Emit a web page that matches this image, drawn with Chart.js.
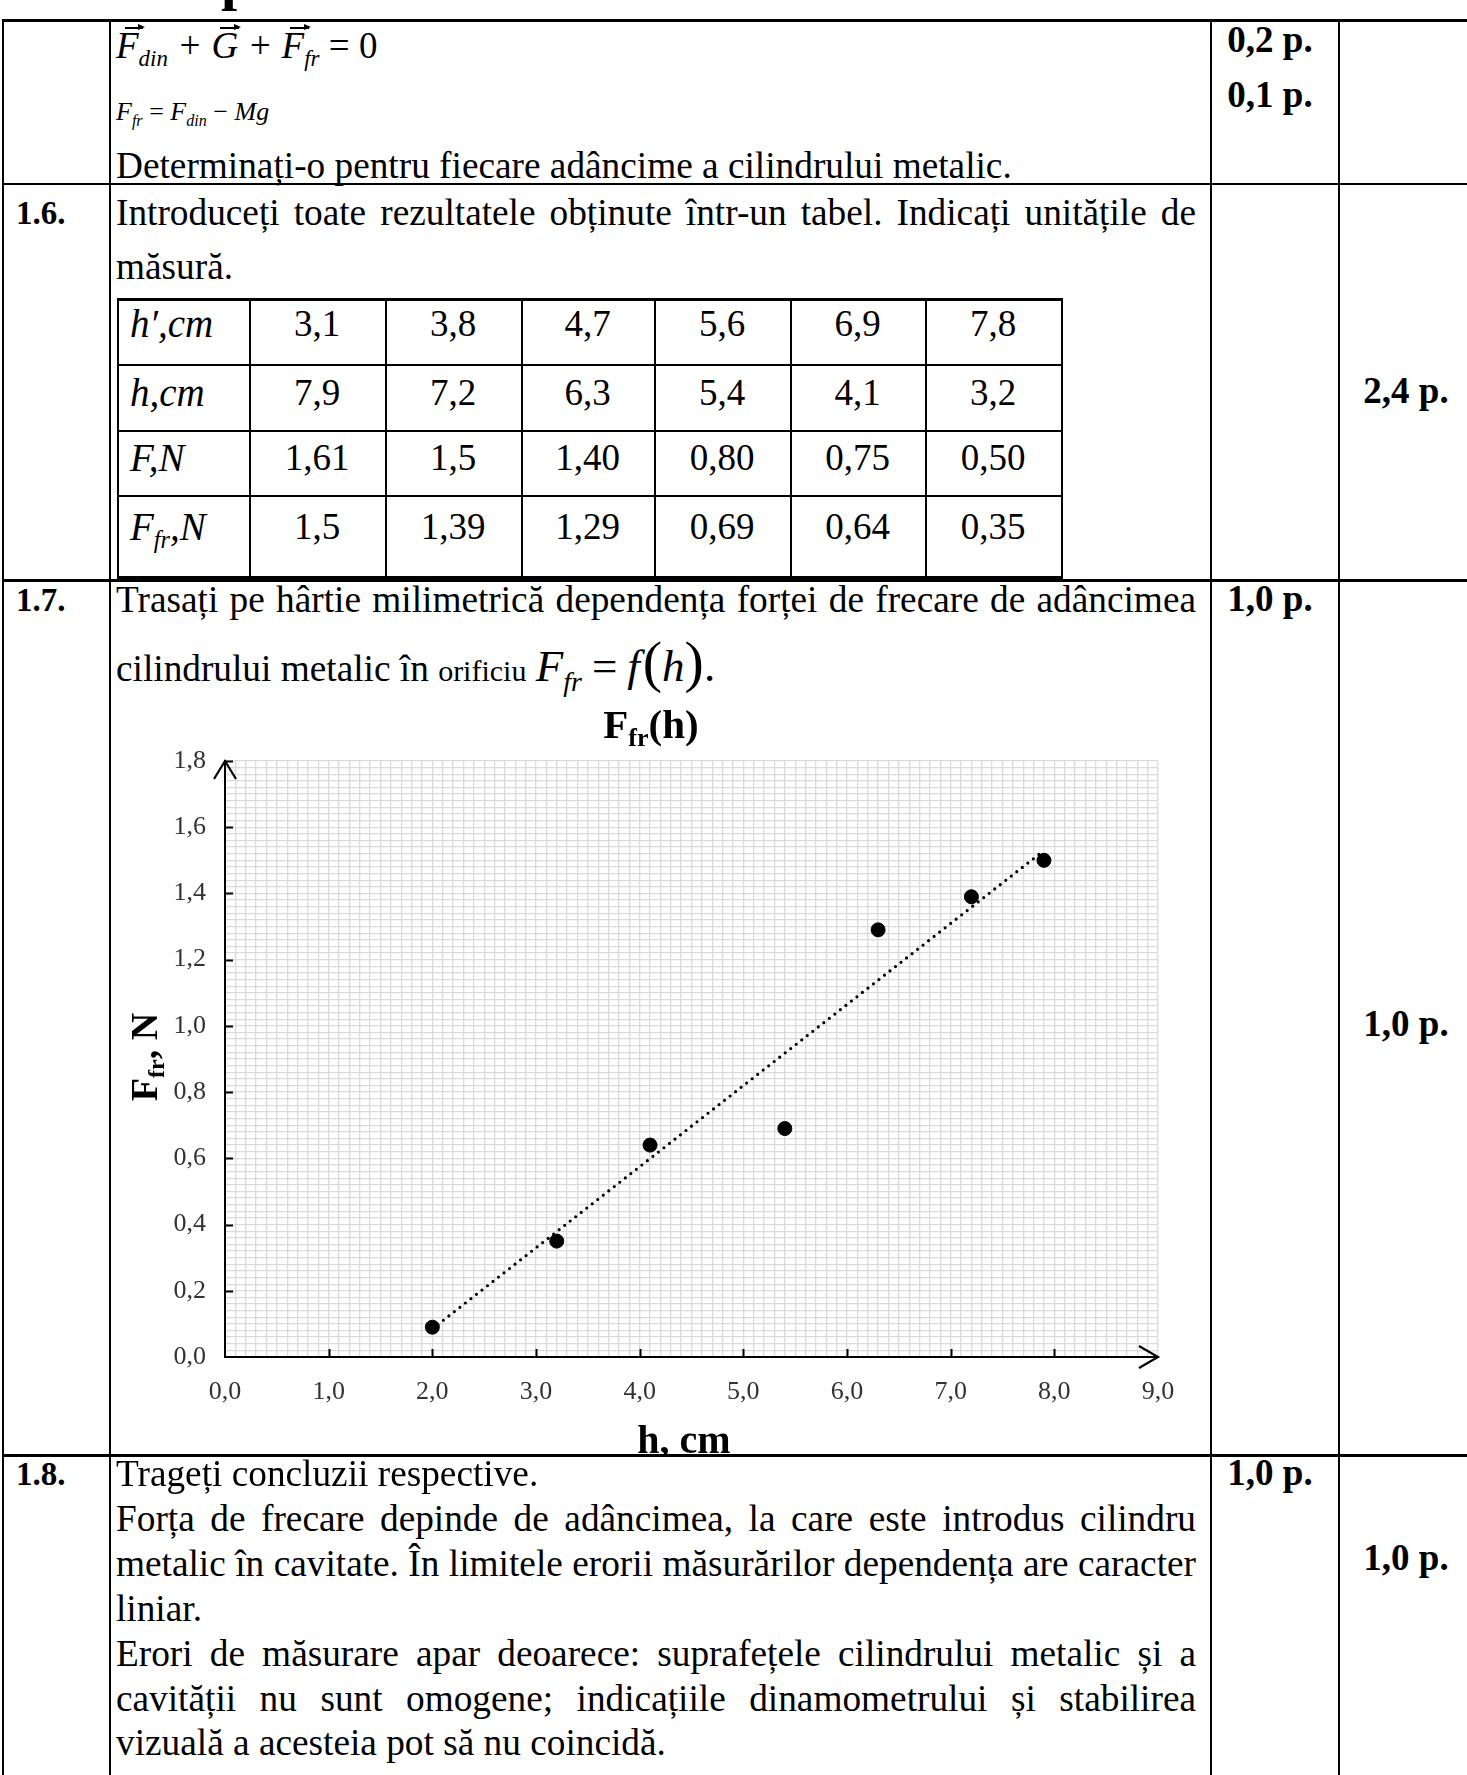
<!DOCTYPE html>
<html>
<head>
<meta charset="utf-8">
<script src="https://cdn.jsdelivr.net/npm/chart.js@4.4.1/dist/chart.umd.min.js"></script>
<style>
body { margin: 0; background: #fff; }
#page { position: relative; width: 1467px; height: 1775px; overflow: hidden; font-family: "Liberation Serif", "Times New Roman", serif; color: #000; }
.ln { position: absolute; background: #000; }
.t { position: absolute; white-space: nowrap; font-size: 37.3px; line-height: 44px; }
.j { text-align: justify; text-align-last: justify; width: 1080px; }
.b { font-weight: bold; }
.c { text-align: center; }
.m { font-style: italic; }
.n { font-style: normal; }
sub { font-size: 0.62em; vertical-align: -0.35em; line-height: 0; }
.vec { position: relative; display: inline-block; }
.ar { position: absolute; left: 0.24em; top: 3px; width: 0.5em; height: 1.6px; background: #000; }
.ar::after { content: ""; position: absolute; right: -2px; top: -3px; border-left: 7px solid #000; border-top: 3.8px solid transparent; border-bottom: 3.8px solid transparent; }
.cell { position: absolute; white-space: nowrap; font-size: 37px; line-height: 44px; text-align: center; }
.cell.hd { text-align: left; font-style: italic; font-size: 39px; padding-left: 13px; box-sizing: border-box; }
#wrap { position: absolute; left: 102px; top: 690px; width: 1105px; height: 765px; }
</style>
</head>
<body>
<div id="page">
  <!-- fragment de titlu de deasupra tabelului -->
  <div class="t b" style="left:221px;top:-49px;font-size:58px;line-height:58px">p</div>

  <!-- grila documentului -->
  <div class="ln" style="left:3px;top:19px;width:1464px;height:3px"></div>
  <div class="ln" style="left:2px;top:19px;width:2px;height:1756px"></div>
  <div class="ln" style="left:109px;top:19px;width:2px;height:1756px"></div>
  <div class="ln" style="left:1210px;top:19px;width:2px;height:1756px"></div>
  <div class="ln" style="left:1338px;top:19px;width:2px;height:1756px"></div>
  <div class="ln" style="left:3px;top:183px;width:1464px;height:2px"></div>
  <div class="ln" style="left:3px;top:579px;width:1464px;height:3px"></div>
  <div class="ln" style="left:3px;top:1454px;width:1464px;height:3px"></div>

  <!-- rand 1 -->
  <div class="t m" style="left:116px;top:24px;font-size:37px"><span class="vec">F<span class="ar"></span></span><sub>din</sub> + <span class="vec">G<span class="ar"></span></span> + <span class="vec">F<span class="ar"></span></span><sub>fr</sub> <span class="n">= 0</span></div>
  <div class="t m" style="left:116px;top:90px;font-size:26px">F<sub>fr</sub> <span class="n">=</span> F<sub>din</sub> <span class="n">&minus;</span> Mg</div>
  <div class="t" style="left:116px;top:144px">Determinați-o pentru fiecare adâncime a cilindrului metalic.</div>
  <div class="t b c" style="left:1212px;top:18px;width:116px;font-size:37px">0,2 p.</div>
  <div class="t b c" style="left:1212px;top:73px;width:116px;font-size:37px">0,1 p.</div>

  <!-- 1.6 -->
  <div class="t b" style="left:16px;top:191px;font-size:33px">1.6.</div>
  <div class="t j" style="left:116px;top:191px">Introduceți toate rezultatele obținute într-un tabel. Indicați unitățile de</div>
  <div class="t" style="left:116px;top:245px">măsură.</div>
  <div class="t b c" style="left:1340px;top:369px;width:132px;font-size:37px">2,4 p.</div>

  <!-- 1.7 -->
  <div class="t b" style="left:16px;top:578px;font-size:33px">1.7.</div>
  <div class="t j" style="left:116px;top:578px">Trasați pe hârtie milimetrică dependența forței de frecare de adâncimea</div>
  <div class="t" style="left:116px;top:640px">cilindrului metalic în <span style="font-size:30px">orificiu</span> <span style="font-size:45px"><span class="m">F<sub>fr</sub></span><span style="margin:0 10px">=</span><span class="m">f</span><span style="font-size:58px;margin-left:3px">(</span><span class="m">h</span><span style="font-size:58px">)</span>.</span></div>
  <div class="t b c" style="left:1212px;top:577px;width:116px;font-size:37px">1,0 p.</div>
  <div class="t b c" style="left:1340px;top:1002px;width:132px;font-size:37px">1,0 p.</div>
  <div id="wrap"><canvas id="chart"></canvas></div>

  <!-- 1.8 -->
  <div class="t b" style="left:16px;top:1452px;font-size:33px">1.8.</div>
  <div class="t" style="left:116px;top:1452px">Trageți concluzii respective.</div>
  <div class="t j" style="left:116px;top:1497px">Forța de frecare depinde de adâncimea, la care este introdus cilindru</div>
  <div class="t j" style="left:116px;top:1542px">metalic în cavitate. În limitele erorii măsurărilor dependența are caracter</div>
  <div class="t" style="left:116px;top:1587px">liniar.</div>
  <div class="t j" style="left:116px;top:1632px">Erori de măsurare apar deoarece: suprafețele cilindrului metalic și a</div>
  <div class="t j" style="left:116px;top:1677px">cavității nu sunt omogene; indicațiile dinamometrului și stabilirea</div>
  <div class="t" style="left:116px;top:1721px">vizuală a acesteia pot să nu coincidă.</div>
  <div class="t b c" style="left:1212px;top:1451px;width:116px;font-size:37px">1,0 p.</div>
  <div class="t b c" style="left:1340px;top:1536px;width:132px;font-size:37px">1,0 p.</div>
</div>

<script>
// tabelul 1.6
const hPrimeRow = ["3,1", "3,8", "4,7", "5,6", "6,9", "7,8"];
const hRow = ["7,9", "7,2", "6,3", "5,4", "4,1", "3,2"];
const fRow = ["1,61", "1,5", "1,40", "0,80", "0,75", "0,50"];
const ffrRow = ["1,5", "1,39", "1,29", "0,69", "0,64", "0,35"];
const rowHeads = ["h′,cm", "h,cm", "F,N", "F<sub>fr</sub>,N"];

// graficul Ffr(h)
const hCm = [2.0, 3.2, 4.1, 5.4, 6.3, 7.2, 7.9];
const fFr = [0.09, 0.35, 0.64, 0.69, 1.29, 1.39, 1.50];
const trendH = [2.0, 7.86];
const trendF = [0.085, 1.52];

// geometria tabelului (px)
const colEdges = [117, 249, 385, 521, 654, 790, 925, 1061];
const rowEdges = [298, 364, 430, 495, 579];
const rowText = [302, 371, 436, 505];

const page = document.getElementById("page");
function addDiv(cls, style, html) {
    const d = document.createElement("div");
    d.className = cls;
    d.style.cssText = style;
    if (html) d.innerHTML = html;
    page.appendChild(d);
}
rowEdges.forEach((y, i) => {
    const last = i === rowEdges.length - 1;
    const h = i === 0 ? 3 : (last ? 4 : 2);
    addDiv("ln", `left:${colEdges[0]}px;top:${y - (last ? 3 : 0)}px;width:${colEdges[colEdges.length - 1] - colEdges[0] + 1}px;height:${h}px`);
});
colEdges.forEach(x => {
    addDiv("ln", `left:${x}px;top:${rowEdges[0]}px;width:1.5px;height:${rowEdges[rowEdges.length - 1] - rowEdges[0]}px`);
});
[hPrimeRow, hRow, fRow, ffrRow].forEach((vals, r) => {
    addDiv("cell hd", `left:${colEdges[0]}px;top:${rowText[r]}px;width:${colEdges[1] - colEdges[0]}px`, rowHeads[r]);
    vals.forEach((v, k) => {
        addDiv("cell", `left:${colEdges[k + 1]}px;top:${rowText[r]}px;width:${colEdges[k + 2] - colEdges[k + 1]}px`, v);
    });
});

function virgula(v) {
    return v.toFixed(1).replace(".", ",");
}
function eMultiplu(v, pas) {
    const r = v / pas;
    return Math.abs(r - Math.round(r)) < 1e-6;
}

// text cu indice pe canvas
function scrie(ctx, parts, cx, cy) {
    let w = 0;
    parts.forEach(p => { ctx.font = p.font; w += ctx.measureText(p.text).width; });
    let x = cx - w / 2;
    parts.forEach(p => {
        ctx.font = p.font;
        ctx.fillText(p.text, x, cy + (p.dy || 0));
        x += ctx.measureText(p.text).width;
    });
}

const serif = '"Liberation Serif", "Times New Roman", serif';

const extras = {
    id: "extras",
    afterDraw(chart) {
        const { ctx, chartArea: a, scales: { x, y } } = chart;
        ctx.save();
        ctx.strokeStyle = "#000";
        ctx.fillStyle = "#000";
        ctx.lineWidth = 2;
        ctx.beginPath();
        x.ticks.forEach(t => {
            if (t.value > 0 && t.value < 9 && eMultiplu(t.value, 1)) {
                const px = Math.round(x.getPixelForValue(t.value)) + 0.5;
                ctx.moveTo(px, a.bottom);
                ctx.lineTo(px, a.bottom - 8);
            }
        });
        y.ticks.forEach(t => {
            if (t.value > 0 && eMultiplu(t.value, 0.2)) {
                const py = Math.round(y.getPixelForValue(t.value)) + 0.5;
                ctx.moveTo(a.left, py);
                ctx.lineTo(a.left + 8, py);
            }
        });
        ctx.stroke();

        // sageti
        ctx.lineWidth = 2.2;
        ctx.beginPath();
        ctx.moveTo(a.left - 11, a.top + 18);
        ctx.lineTo(a.left, a.top);
        ctx.lineTo(a.left + 11, a.top + 18);
        ctx.moveTo(a.right - 19, a.bottom - 11);
        ctx.lineTo(a.right, a.bottom);
        ctx.lineTo(a.right - 19, a.bottom + 11);
        ctx.stroke();

        // titluri
        ctx.textBaseline = "alphabetic";
        scrie(ctx, [
            { text: "F", font: "bold 41px " + serif },
            { text: "fr", font: "bold 26px " + serif, dy: 8 },
            { text: "(h)", font: "bold 41px " + serif }
        ], 549, 48);
        scrie(ctx, [{ text: "h, cm", font: "bold 40px " + serif }], 582, 763);
        ctx.translate(42, 367);
        ctx.rotate(-Math.PI / 2);
        scrie(ctx, [
            { text: "F", font: "bold 38px " + serif },
            { text: "fr", font: "bold 24px " + serif, dy: 7 },
            { text: ", N", font: "bold 38px " + serif }
        ], 0, 13);
        ctx.restore();
    }
};

new Chart(document.getElementById("chart"), {
    type: "scatter",
    data: {
        datasets: [
            {
                label: "Ffr",
                data: hCm.map((h, i) => ({ x: h, y: fFr[i] })),
                backgroundColor: "#000",
                borderColor: "#000",
                pointRadius: 7,
                pointHoverRadius: 7
            },
            {
                label: "trend",
                type: "line",
                data: trendH.map((h, i) => ({ x: h, y: trendF[i] })),
                borderColor: "#000",
                borderWidth: 3.2,
                borderDash: [0, 7],
                borderCapStyle: "round",
                pointRadius: 0,
                fill: false
            }
        ]
    },
    options: {
        responsive: true,
        maintainAspectRatio: false,
        animation: false,
        layout: { padding: { top: 71, right: 49, left: 0, bottom: 0 } },
        plugins: { legend: { display: false }, tooltip: { enabled: false } },
        scales: {
            x: {
                type: "linear",
                min: 0,
                max: 9,
                afterFit: s => { s.height = 98; },
                grid: { color: "#dadada", lineWidth: 1.3, drawTicks: false },
                border: { display: true, color: "#000", width: 2 },
                ticks: {
                    stepSize: 0.1,
                    autoSkip: false,
                    maxRotation: 0,
                    padding: 20,
                    color: "#333",
                    font: { family: serif, size: 26 },
                    callback: v => eMultiplu(v, 1) ? virgula(v) : ""
                }
            },
            y: {
                type: "linear",
                min: 0,
                max: 1.8,
                afterFit: s => { s.width = 123; },
                grid: { color: "#dadada", lineWidth: 1.3, drawTicks: false },
                border: { display: true, color: "#000", width: 2 },
                ticks: {
                    stepSize: 0.02,
                    autoSkip: false,
                    padding: 19,
                    color: "#333",
                    font: { family: serif, size: 26 },
                    callback: v => eMultiplu(v, 0.2) ? virgula(v) : ""
                }
            }
        }
    },
    plugins: [extras]
});
</script>
</body>
</html>
